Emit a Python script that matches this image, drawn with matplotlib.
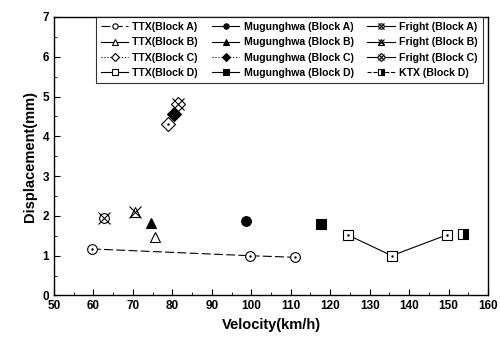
import matplotlib
matplotlib.use("Agg")
import matplotlib.pyplot as plt
from matplotlib.ticker import MultipleLocator
from matplotlib.legend_handler import HandlerTuple

plt.rcParams['font.family'] = ['Liberation Sans', 'DejaVu Sans']
plt.rcParams['font.weight'] = 'bold'

# data (velocity km/h, displacement mm)
ttx_a_v = [59.6, 99.6, 111.0]
ttx_a_d = [1.17, 1.00, 0.96]
ttx_b_v = [75.6]
ttx_b_d = [1.47]
ttx_c_v = [78.8]
ttx_c_d = [4.32]
ttx_d_v = [124.5, 135.6, 149.5]
ttx_d_d = [1.52, 1.00, 1.52]

mug_a_v = [98.6]
mug_a_d = [1.88]
mug_b_v = [74.7]
mug_b_d = [1.83]
mug_c_v = [80.5]
mug_c_d = [4.55]
mug_d_v = [117.6]
mug_d_d = [1.80]

fr_a_v = [62.7]
fr_a_d = [1.95]
fr_b_v = [70.5]
fr_b_d = [2.10]
fr_c_v = [81.4]
fr_c_d = [4.82]
ktx_d_v = [153.6]
ktx_d_d = [1.54]

fig = plt.figure(figsize=(5, 3.45), dpi=100)
ax = fig.add_axes([0.108, 0.1435, 0.868, 0.8075])

k = dict(color='black', markersize=7, markeredgewidth=0.8, linewidth=0.8)
opn = dict(markerfacecolor='white', **k)
handles = []

h, = ax.plot(ttx_a_v, ttx_a_d, marker='o', linestyle=(0, (8, 3)), label='TTX(Block A)', **opn)
handles.append(h)
h, = ax.plot(ttx_b_v, ttx_b_d, marker='^', linestyle='-', label='TTX(Block B)', **opn)
handles.append(h)
h, = ax.plot(ttx_c_v, ttx_c_d, marker='D', linestyle=':', label='TTX(Block C)', **opn)
handles.append(h)
h, = ax.plot(ttx_d_v, ttx_d_d, marker='s', linestyle='-', label='TTX(Block D)', **opn)
handles.append(h)

h, = ax.plot(mug_a_v, mug_a_d, marker='o', linestyle='-', label='Mugunghwa (Block A)', **k)
handles.append(h)
h, = ax.plot(mug_b_v, mug_b_d, marker='^', linestyle='-', label='Mugunghwa (Block B)', **k)
handles.append(h)
h, = ax.plot(mug_c_v, mug_c_d, marker='D', linestyle=':', label='Mugunghwa (Block C)', **k)
handles.append(h)
h, = ax.plot(mug_d_v, mug_d_d, marker='s', linestyle='-', label='Mugunghwa (Block D)', **k)
handles.append(h)

# fright markers: open shape with a cross on top
for v, d, m, ls, lab in [(fr_a_v, fr_a_d, 'o', '-', 'Fright (Block A)'),
                         (fr_b_v, fr_b_d, '^', '-', 'Fright (Block B)'),
                         (fr_c_v, fr_c_d, 'D', '-', 'Fright (Block C)')]:
    h1, = ax.plot(v, d, marker=m, linestyle=ls, label=lab, **opn)
    h2, = ax.plot(v, d, marker='x', linestyle='none', color='black', markersize=8, markeredgewidth=0.8)
    handles.append((h1, h2))

h, = ax.plot(ktx_d_v, ktx_d_d, marker='s', linestyle='--', fillstyle='right',
             markerfacecoloralt='white', label='KTX (Block D)', **k)
handles.append(h)

# centre dots of the open markers
for v, d in [(ttx_a_v, ttx_a_d), (ttx_d_v, ttx_d_d), (ttx_c_v, ttx_c_d)]:
    ax.plot(v, d, marker='.', markersize=1.5, linestyle='none', color='black')

ax.set_xlim(50, 160)
ax.set_ylim(0, 7)
ax.xaxis.set_major_locator(MultipleLocator(10))
ax.xaxis.set_minor_locator(MultipleLocator(5))
ax.yaxis.set_major_locator(MultipleLocator(1))
ax.yaxis.set_minor_locator(MultipleLocator(0.5))
ax.tick_params(which='both', direction='in', labelsize=8.5)
ax.tick_params(which='major', length=4)
ax.tick_params(which='minor', length=2)
ax.set_xlabel('Velocity(km/h)', fontsize=10.5, fontweight='bold')
ax.set_ylabel('Displacement(mm)', fontsize=10.5, fontweight='bold')
for s in ax.spines.values():
    s.set_linewidth(1.0)

labels = ['TTX(Block A)', 'TTX(Block B)', 'TTX(Block C)', 'TTX(Block D)',
          'Mugunghwa (Block A)', 'Mugunghwa (Block B)', 'Mugunghwa (Block C)', 'Mugunghwa (Block D)',
          'Fright (Block A)', 'Fright (Block B)', 'Fright (Block C)', 'KTX (Block D)']
leg = ax.legend(handles=handles, labels=labels, ncol=3, loc='upper right',
                bbox_to_anchor=(0.988, 1.0), borderaxespad=0, fontsize=7.6,
                frameon=True, fancybox=False, edgecolor='black', markerscale=0.55,
                handlelength=2.6, handletextpad=0.4, columnspacing=1.3,
                labelspacing=0.5, borderpad=0.5,
                handler_map={tuple: HandlerTuple(ndivide=1, pad=0)})
leg.get_frame().set_linewidth(0.8)
for t in leg.get_texts():
    t.set_fontweight('bold')

fig.savefig('out.png', dpi=100)
